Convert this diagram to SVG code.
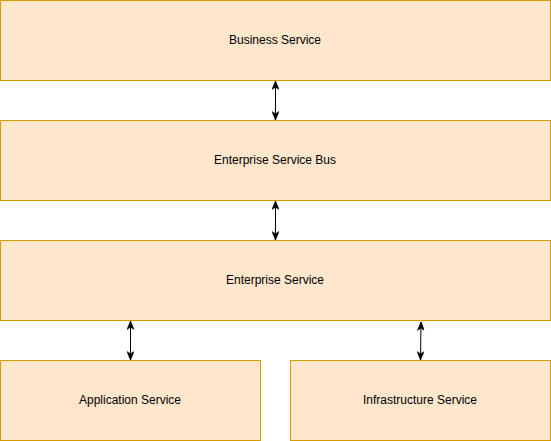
<svg xmlns="http://www.w3.org/2000/svg" width="551" height="441" viewBox="0 0 551 441">
<style>
.box{fill:#ffe6cc;stroke:#d79b00;stroke-width:1}
.lbl{font-family:"Liberation Sans",Arial,sans-serif;font-size:12px;fill:#000;text-anchor:middle;dominant-baseline:central}
.conn{stroke:#000;stroke-width:1;fill:none;marker-start:url(#ah);marker-end:url(#ah)}
</style>
<defs>
<marker id="ah" viewBox="0 0 10 8" refX="9.5" refY="4" markerWidth="9" markerHeight="7.2" markerUnits="userSpaceOnUse" orient="auto-start-reverse">
<path d="M0,0 L10,4 L0,8 L2.5,4 Z" fill="#000" stroke="#000" stroke-width="0.5"/>
</marker>
</defs>
<rect width="551" height="441" fill="#fff"/>
<g id="business-service"><rect class="box" x="0.5" y="0.5" width="550" height="80"/><text class="lbl" x="275" y="39.5">Business Service</text></g>
<g id="enterprise-service-bus"><rect class="box" x="0.5" y="120.5" width="550" height="80"/><text class="lbl" x="275" y="159.5">Enterprise Service Bus</text></g>
<g id="enterprise-service"><rect class="box" x="0.5" y="240.5" width="550" height="80"/><text class="lbl" x="275" y="279.5">Enterprise Service</text></g>
<g id="application-service"><rect class="box" x="0.5" y="360.5" width="260" height="80"/><text class="lbl" x="130" y="399.5">Application Service</text></g>
<g id="infrastructure-service"><rect class="box" x="290.5" y="360.5" width="260" height="80"/><text class="lbl" x="420" y="399.5">Infrastructure Service</text></g>
<g id="connectors">
<line class="conn" x1="275.5" y1="81" x2="275.5" y2="120"/>
<line class="conn" x1="275.5" y1="201" x2="275.5" y2="240"/>
<line class="conn" x1="130.5" y1="321" x2="130.5" y2="360"/>
<line class="conn" x1="421" y1="322" x2="420.5" y2="360"/>
</g>
</svg>
